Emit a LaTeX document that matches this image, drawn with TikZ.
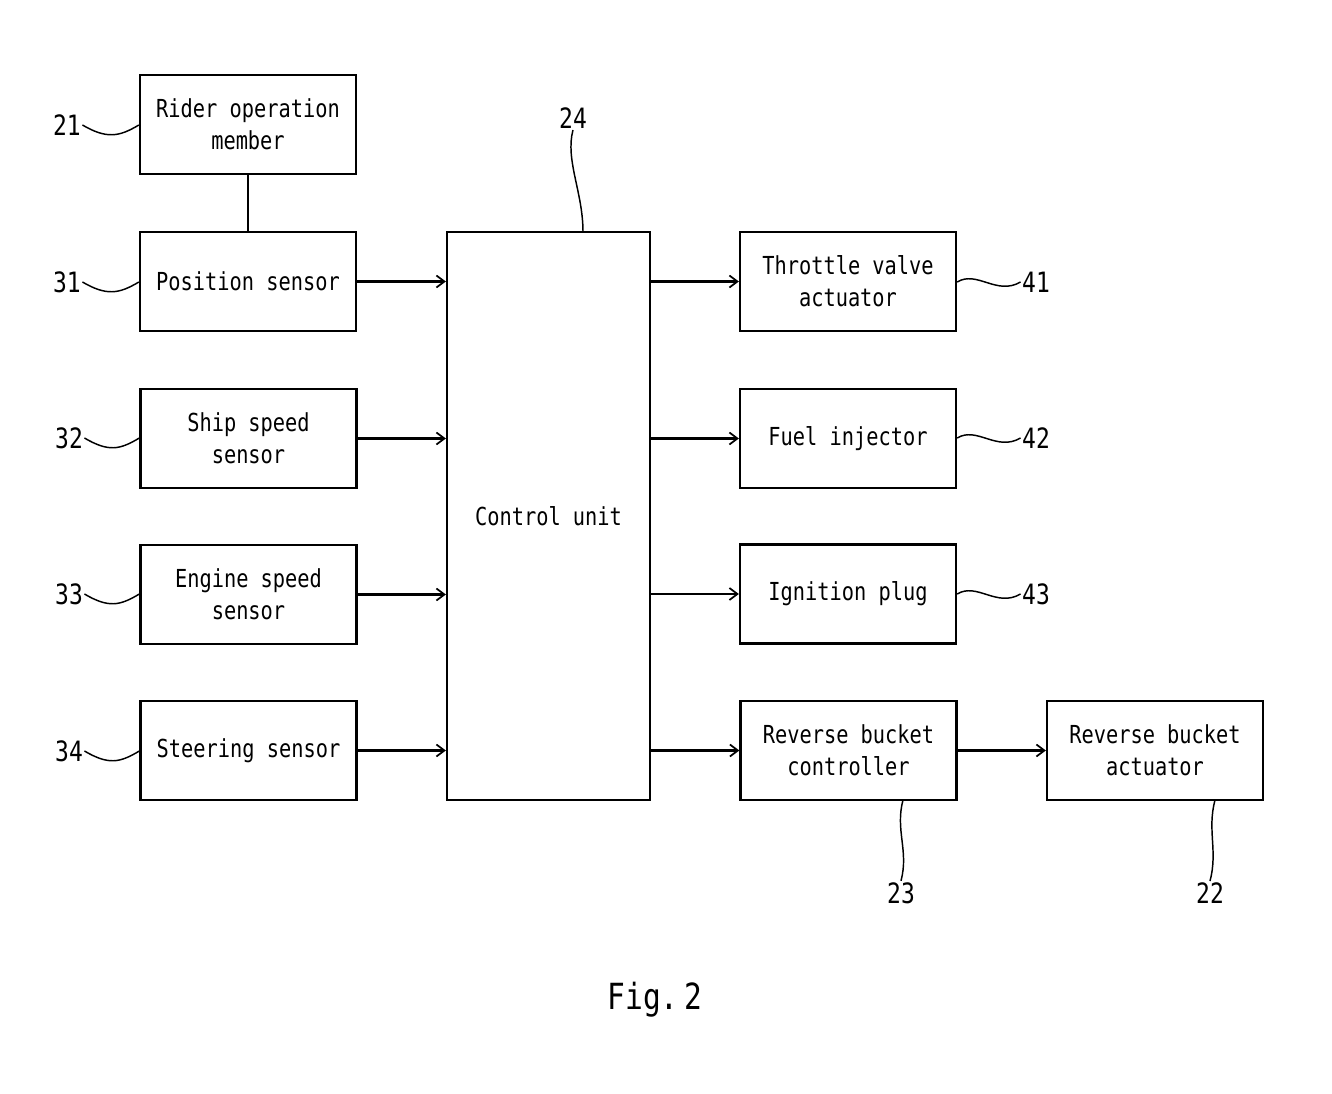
\documentclass[tikz,border=0pt]{standalone}
\usepackage{fontspec}
\setmainfont{DejaVu Sans Mono}[FakeStretch=0.82]
\usetikzlibrary{arrows.meta}
\begin{document}
\begin{tikzpicture}[x=0.75pt,y=-0.75pt,
  every node/.style={font=\fontsize{18.6}{24}\selectfont},
  blk/.style={draw,line width=1.7pt,inner sep=0pt,align=center,minimum width=162pt,minimum height=74.25pt},
  cu/.style={draw,line width=1.7pt,inner sep=0pt,minimum width=152.25pt,minimum height=426pt},
  arr/.style={line width=1.7pt,-{Straight Barb[length=6pt,width=9pt,line width=1.3pt]}},
  lead/.style={line width=1.1pt},
  num/.style={font=\fontsize{21}{24}\selectfont,inner sep=1pt}]
\useasboundingbox (0,0) rectangle (1332,1094);
% left column
\node[blk] (rom) at (248,124.5) {Rider operation\\member};
\node[blk] (pos) at (248,281.5) {Position sensor};
\node[blk] (ship) at (248.5,438.5) {Ship speed\\sensor};
\node[blk] (eng) at (248.5,594.5) {Engine speed\\sensor};
\node[blk] (steer) at (248.5,750.5) {Steering sensor};
% control unit
\node[cu] (cu) at (548.5,516) {Control unit};
% right column
\node[blk] (thr) at (848,281.5) {Throttle valve\\actuator};
\node[blk] (fuel) at (848,438.5) {Fuel injector};
\node[blk] (ign) at (848,594) {Ignition plug};
\node[blk] (rbc) at (848.5,750.5) {Reverse bucket\\controller};
\node[blk] (rba) at (1155,750.5) {Reverse bucket\\actuator};
% connections
\draw[line width=1.7pt] (rom.south) -- (pos.north);
\draw[arr] (pos.east) -- (pos.east -| cu.west);
\draw[arr] (ship.east) -- (ship.east -| cu.west);
\draw[arr] (eng.east) -- (eng.east -| cu.west);
\draw[arr] (steer.east) -- (steer.east -| cu.west);
\draw[arr] (thr.west -| cu.east) -- (thr.west);
\draw[arr] (fuel.west -| cu.east) -- (fuel.west);
\draw[arr] (ign.west -| cu.east) -- (ign.west);
\draw[arr] (rbc.west -| cu.east) -- (rbc.west);
\draw[arr] (rbc.east) -- (rba.west);
% reference numerals
\node[num] (n21) at (67,125) {21};
\node[num] (n31) at (67,282) {31};
\node[num] (n32) at (69,438) {32};
\node[num] (n33) at (69,594) {33};
\node[num] (n34) at (69,751) {34};
\node[num] (n24) at (573,118) {24};
\node[num] (n41) at (1036,282) {41};
\node[num] (n42) at (1036,438) {42};
\node[num] (n43) at (1036,594) {43};
\node[num] (n23) at (901,893) {23};
\node[num] (n22) at (1210,893) {22};
\node[font=\fontsize{27}{30}\selectfont] (fig) at (655,1000) {Fig.\,2};
% leader lines
\foreach \n/\b in {n21/rom,n31/pos,n32/ship,n33/eng,n34/steer}{
  \draw[lead] (\n.east) .. controls +(24,14) and +(-20,12) .. (\n.east -| \b.west);
}
\foreach \n/\b in {n41/thr,n42/fuel,n43/ign}{
  \draw[lead] (\n.west -| \b.east) .. controls +(20,-12) and +(-24,14) .. (\n.west);
}
\coordinate (c24) at (583,232);
\draw[lead] (c24) .. controls +(0,-40) and +(-8,30) .. (n24.south);
\coordinate (c23) at (903,800);
\draw[lead] (c23) .. controls +(-8,30) and +(8,-30) .. (n23.north);
\coordinate (c22) at (1215,800);
\draw[lead] (c22) .. controls +(-8,30) and +(8,-30) .. (n22.north);
\end{tikzpicture}
\end{document}
